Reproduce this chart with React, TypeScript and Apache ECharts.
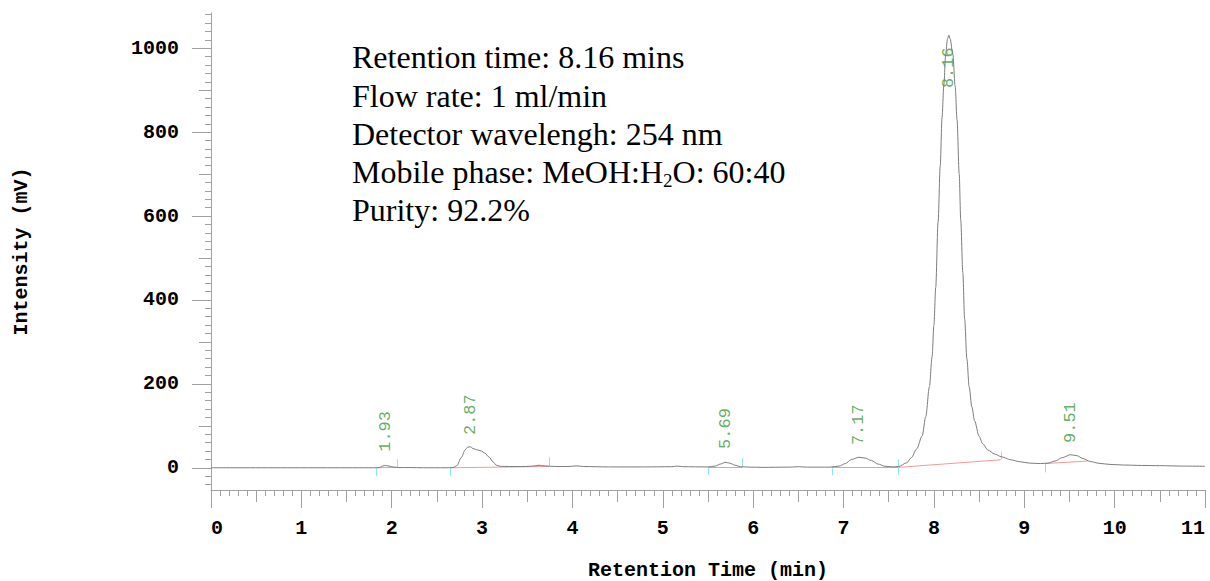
import React, { useEffect, useRef } from "react";
import * as echarts from "echarts";

// Chromatogram trace (min, mV)
const traceTime = [
  0.0, 1.8, 1.86, 1.9, 1.93, 1.97, 2.02, 2.08, 2.2, 2.35, 2.6, 2.68, 2.72, 2.77, 2.81, 2.84, 2.87, 2.9, 2.94, 2.99,
  3.03, 3.08, 3.12, 3.16, 3.2, 3.3, 3.48, 3.56, 3.63, 3.69, 3.8, 3.95, 4.05, 4.12, 4.4, 4.8, 5.1, 5.16, 5.22, 5.5,
  5.58, 5.64, 5.69, 5.74, 5.8, 5.86, 5.95, 6.1, 6.4, 6.5, 6.6, 6.85, 6.95, 7.02, 7.09, 7.17, 7.24, 7.31, 7.38, 7.46,
  7.55, 7.61, 7.7, 7.75, 7.81, 7.87, 7.91, 7.95, 7.98, 8.0, 8.02, 8.046, 8.07, 8.09, 8.11, 8.13, 8.15, 8.165, 8.18, 8.21,
  8.235, 8.256, 8.28, 8.297, 8.32, 8.34, 8.365, 8.39, 8.42, 8.45, 8.5, 8.54, 8.6, 8.67, 8.75, 8.85, 8.95, 9.06, 9.18, 9.26,
  9.34, 9.42, 9.51, 9.58, 9.65, 9.73, 9.83, 9.95, 10.1, 10.3, 10.5, 10.75, 11.0,
];
const traceMv = [
  0, 0, 0.3, 4, 5.5, 4, 1.5, 0.5, 0.5, 0, 0, 0.5, 5, 24, 42, 49, 50, 46, 43, 40,
  35, 25, 14, 6, 3.5, 3, 3, 4, 6, 4.5, 3, 3, 4.5, 3, 2, 2, 2.5, 4, 2.5, 2,
  4, 9, 13, 11, 6, 2.5, 1.5, 1, 1.5, 2.5, 1.5, 1.5, 4, 10, 20, 25, 23, 17, 9, 3.5,
  2, 3, 12, 24, 45, 76, 122, 193, 265, 340, 430, 585, 720, 835, 912, 985, 1022, 1031, 1022, 985,
  910, 830, 700, 590, 465, 355, 260, 193, 145, 112, 75, 57, 42, 33, 26, 19, 14.5, 11, 10, 11,
  16, 24, 31, 29, 22, 15, 10.5, 8, 6.5, 5.5, 5, 4, 3.5,
];

// Peak annotations
const peakLabels = ["1.93", "2.87", "5.69", "7.17", "8.16", "9.51"];
const peakLabelTime = [1.93, 2.87, 5.69, 7.17, 8.16, 9.51];
const peakLabelMv = [38, 78, 45, 54, 905, 59];

// Integration start/end markers (cyan)
const markerTime = [1.83, 2.06, 2.65, 3.74, 5.5, 5.88, 6.87, 7.61, 8.74, 9.23];
const markerFromMv = [-1, 2, -1, 4, -1, 3, -1, -17, 20, -11];
const markerToMv = [-20, 20, -20, 25, -17, 23, -18, 20, 38, 9];

// Integration baselines (red)
const baseStartTime = [1.83, 2.65, 5.5, 6.87, 7.61, 9.23];
const baseStartMv = [0, 0, 1.5, 0.5, 1, 10];
const baseEndTime = [2.06, 3.74, 5.88, 7.61, 8.74, 9.7];
const baseEndMv = [1, 3, 1.5, 1, 19, 16];

// Axis ticks
const yLabelTicks = [0, 200, 400, 600, 800, 1000];
const yMidTicks = [100, 300, 500, 700, 900];
const yMinorTicks = Array.from({ length: 57 }, (_, i) => -40 + i * 20);
const xLabelTicks = [0, 1, 2, 3, 4, 5, 6, 7, 8, 9, 10, 11];
const xMidTicks = [0.5, 1.5, 2.5, 3.5, 4.5, 5.5, 6.5, 7.5, 8.5, 9.5, 10.5];
const xMinorTicks = Array.from({ length: 111 }, (_, i) => i / 10);

// Info box text; each line is a list of [text, isSubscript] pieces
const infoLines: [string, boolean][][] = [
  [["Retention time: 8.16 mins", false]],
  [["Flow rate: 1 ml/min", false]],
  [["Detector wavelengh: 254 nm", false]],
  [["Mobile phase: MeOH:H", false], ["2", true], ["O: 60:40", false]],
  [["Purity: 92.2%", false]],
];

const MONO = "'Liberation Mono', 'DejaVu Sans Mono', monospace";
const SERIF = "'Liberation Serif', 'DejaVu Serif', serif";
const AXIS_GRAY = "#a0a0a0";
const INFO_SIZE = 32;
const SUB_SIZE = 19;

const Y_MIN = -53;
const Y_MAX = 1084;

function yAxisLayer(ticks: number[], len: number, main: boolean) {
  return {
    type: "value",
    min: Y_MIN,
    max: Y_MAX,
    position: "left",
    offset: 0,
    name: main ? "Intensity (mV)" : "",
    nameLocation: "middle",
    nameGap: 180,
    nameTextStyle: { fontFamily: MONO, fontWeight: "bold", fontSize: 20, color: "#000" },
    axisLine: { show: main, lineStyle: { color: AXIS_GRAY, width: 1 } },
    axisTick: { show: true, inside: false, length: len, customValues: ticks, lineStyle: { color: AXIS_GRAY, width: 1 } },
    axisLabel: {
      show: main,
      customValues: ticks,
      margin: 32,
      fontFamily: MONO,
      fontWeight: "bold",
      fontSize: 20,
      color: "#000",
      formatter: (v: number) => String(v),
    },
    splitLine: { show: false },
  };
}

function xAxisLayer(ticks: number[], len: number, main: boolean) {
  return {
    type: "value",
    min: 0,
    max: 11,
    position: "bottom",
    offset: 0,
    name: main ? "Retention Time (min)" : "",
    nameLocation: "middle",
    nameGap: 70,
    nameTextStyle: { fontFamily: MONO, fontWeight: "bold", fontSize: 20, color: "#000" },
    axisLine: { show: main, onZero: false, lineStyle: { color: AXIS_GRAY, width: 1 } },
    axisTick: { show: true, inside: false, length: len, customValues: ticks, lineStyle: { color: AXIS_GRAY, width: 1 } },
    axisLabel: {
      show: main,
      customValues: ticks,
      margin: 28,
      fontFamily: MONO,
      fontWeight: "bold",
      fontSize: 20,
      color: "#000",
      alignMinLabel: "left",
      alignMaxLabel: "right",
      formatter: (v: number) => String(v),
    },
    splitLine: { show: false },
  };
}

function measure(text: string, size: number): number {
  const ctx = document.createElement("canvas").getContext("2d");
  if (!ctx) return text.length * size * 0.45;
  ctx.font = `${size}px ${SERIF}`;
  return ctx.measureText(text).width;
}

export default function App() {
  const ref = useRef<HTMLDivElement>(null);

  useEffect(() => {
    if (!ref.current) return;
    const chart = echarts.init(ref.current, null, { renderer: "svg" });

    const trace = traceTime.map((t, i) => [t, traceMv[i]]);
    const labels = peakLabelTime.map((t, i) => [t, peakLabelMv[i]]);
    const markers = markerTime.map((t, i) => ({ coords: [[t, markerFromMv[i]], [t, markerToMv[i]]] }));
    const baselines = baseStartTime.map((t, i) => ({
      coords: [[t, baseStartMv[i]], [baseEndTime[i], baseEndMv[i]]],
    }));

    const lineCenters = [57, 95.5, 133.5, 171.5, 210];
    const infoElements: any[] = [];
    infoLines.forEach((pieces, li) => {
      let x = 352;
      pieces.forEach(([text, sub]) => {
        const size = sub ? SUB_SIZE : INFO_SIZE;
        infoElements.push({
          type: "text",
          x,
          y: lineCenters[li] + (sub ? 9 : 0),
          silent: true,
          style: {
            text,
            fontFamily: SERIF,
            fontSize: size,
            fill: "#000",
            verticalAlign: "middle",
            align: "left",
          },
        });
        x += measure(text, size);
      });
    });

    chart.setOption({
      animation: false,
      backgroundColor: "#ffffff",
      grid: { left: 211, right: 5, top: 13, bottom: 91, containLabel: false, outerBoundsMode: "none" },
      xAxis: [xAxisLayer(xLabelTicks, 18, true), xAxisLayer(xMidTicks, 12, false), xAxisLayer(xMinorTicks, 6, false)],
      yAxis: [yAxisLayer(yLabelTicks, 19, true), yAxisLayer(yMidTicks, 12, false), yAxisLayer(yMinorTicks, 6, false)],
      series: [
        {
          type: "lines",
          coordinateSystem: "cartesian2d",
          polyline: false,
          silent: true,
          data: baselines,
          lineStyle: { color: "#f29a9a", width: 1, opacity: 1 },
          z: 2,
        },
        {
          type: "lines",
          coordinateSystem: "cartesian2d",
          polyline: false,
          silent: true,
          data: markers,
          lineStyle: { color: "#8fe3ea", width: 1, opacity: 1 },
          z: 2,
        },
        {
          type: "line",
          data: trace,
          showSymbol: false,
          symbol: "none",
          smooth: 0.3,
          smoothMonotone: "x",
          lineStyle: { color: "#7c7c7c", width: 1 },
          silent: true,
          z: 3,
        },
        {
          type: "scatter",
          data: labels,
          symbolSize: 1,
          itemStyle: { color: "rgba(0,0,0,0)" },
          silent: true,
          z: 4,
          label: {
            show: true,
            position: "inside",
            rotate: 90,
            align: "left",
            verticalAlign: "middle",
            formatter: (p: any) => peakLabels[p.dataIndex],
            fontFamily: MONO,
            fontSize: 17,
            color: "#3a9a3a",
          },
        },
      ],
      graphic: infoElements,
    });

    return () => chart.dispose();
  }, []);

  return (
    <div
      ref={ref}
      style={{ position: "fixed", left: 0, top: 0, width: 1210, height: 581 }}
    />
  );
}
